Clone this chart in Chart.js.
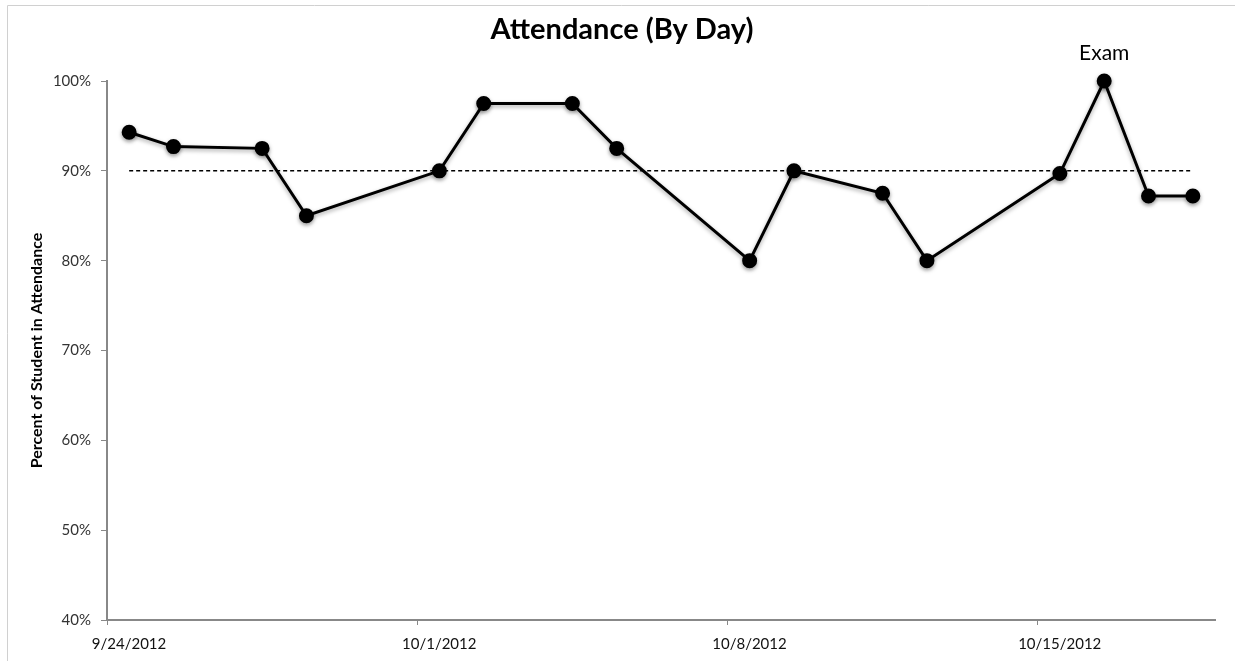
<!DOCTYPE html>
<html>
<head>
<meta charset="utf-8">
<title>Attendance (By Day)</title>
<script src="https://cdn.jsdelivr.net/npm/chart.js@4.4.1/dist/chart.umd.min.js"></script>
<style>
    html, body { margin: 0; padding: 0; background: #ffffff; }
    #wrap { width: 1235px; height: 661px; position: relative; }
</style>
</head>
<body>
<div id="wrap"><canvas id="attendanceChart"></canvas></div>
<script>
// Days with class and the share of students present
const dates = ['9/24/2012', '9/25/2012', '9/27/2012', '9/28/2012', '10/1/2012', '10/2/2012',
    '10/4/2012', '10/5/2012', '10/8/2012', '10/9/2012', '10/11/2012', '10/12/2012',
    '10/15/2012', '10/16/2012', '10/17/2012', '10/18/2012'];
const attendance = [94.3, 92.7, 92.5, 85.0, 90.0, 97.5, 97.5, 92.5, 80.0, 90.0, 87.5, 80.0,
    89.7, 100.0, 87.2, 87.2];
const notes = ['', '', '', '', '', '', '', '', '', '', '', '', '', 'Exam', '', ''];
const target = 90;

// Axis ticks
const tickDates = ['9/24/2012', '10/1/2012', '10/8/2012', '10/15/2012'];
const axisEnd = '10/19/2012';
const yTicks = [40, 50, 60, 70, 80, 90, 100];

const DAY = 24 * 3600 * 1000;
function dayNum(s) {
    const [m, d, y] = s.split('/').map(Number);
    return Date.UTC(y, m - 1, d) / DAY;
}
const start = dayNum(tickDates[0]);
const toX = s => dayNum(s) - start;

document.addEventListener('DOMContentLoaded', () => {
    const FONT = 'Lato, "Open Sans", sans-serif';

    // points sit in the middle of their day, like Excel's date axis
    const points = dates.map((d, i) => ({ x: toX(d) + 0.5, y: attendance[i] }));
    const targetLine = [
        { x: toX(dates[0]) + 0.5, y: target },
        { x: toX(dates[dates.length - 1]) + 0.5, y: target }
    ];

    const frame = {
        id: 'frame',
        beforeDraw(chart) {
            const c = chart.ctx;
            c.save();
            c.strokeStyle = '#d0d0d0';
            c.lineWidth = 1;
            c.beginPath();
            c.moveTo(7.5, chart.height);
            c.lineTo(7.5, 5.5);
            c.lineTo(chart.width, 5.5);
            c.stroke();
            c.fillStyle = '#000';
            c.font = 'bold 29px ' + FONT;
            c.textAlign = 'center';
            c.textBaseline = 'middle';
            c.fillText('Attendance (By Day)', 622, 30);
            c.restore();
        },
        beforeDatasetDraw(chart, args) {
            if (args.index === 0) {
                const c = chart.ctx;
                c.save();
                c.shadowColor = 'rgba(0,0,0,0.35)';
                c.shadowBlur = 4;
                c.shadowOffsetY = 2;
            }
        },
        afterDatasetDraw(chart, args) {
            if (args.index === 0) chart.ctx.restore();
        },
        afterDatasetsDraw(chart) {
            const c = chart.ctx;
            const meta = chart.getDatasetMeta(0);
            c.save();
            c.fillStyle = '#000';
            c.font = '21px ' + FONT;
            c.textAlign = 'center';
            c.textBaseline = 'middle';
            notes.forEach((n, i) => {
                if (!n) return;
                const p = meta.data[i];
                c.fillText(n, p.x, p.y - 28);
            });
            c.restore();
        }
    };

    const ctx = document.getElementById('attendanceChart').getContext('2d');
    new Chart(ctx, {
        type: 'line',
        data: {
            datasets: [{
                label: 'Attendance',
                data: points,
                borderColor: '#000',
                backgroundColor: '#000',
                borderWidth: 3,
                pointRadius: 6,
                pointHoverRadius: 6,
                tension: 0,
                clip: false
            }, {
                label: 'Target',
                data: targetLine,
                borderColor: '#000',
                borderWidth: 1.5,
                borderDash: [4, 3],
                pointRadius: 0,
                tension: 0
            }]
        },
        plugins: [frame],
        options: {
            responsive: true,
            maintainAspectRatio: false,
            animation: false,
            layout: { padding: { top: 81, right: 20, left: 27, bottom: 0 } },
            plugins: {
                legend: { display: false },
                tooltip: { enabled: false }
            },
            scales: {
                x: {
                    type: 'linear',
                    min: 0,
                    max: toX(axisEnd),
                    afterBuildTicks: scale => {
                        scale.ticks = tickDates.map(d => ({ value: toX(d) }));
                    },
                    afterFit: scale => { scale.height = 41; },
                    ticks: {
                        callback: v => tickDates.find(d => toX(d) === v) || '',
                        labelOffset: 22,
                        padding: 10,
                        maxRotation: 0,
                        autoSkip: false,
                        color: '#111',
                        font: { family: FONT, size: 15 }
                    },
                    grid: { drawOnChartArea: false, drawTicks: true, tickLength: 5, color: '#888' },
                    border: { display: true, color: '#888', width: 2 }
                },
                y: {
                    min: 40,
                    max: 100,
                    afterBuildTicks: scale => {
                        scale.ticks = yTicks.map(v => ({ value: v }));
                    },
                    afterFit: scale => { scale.width = 80; },
                    ticks: {
                        callback: v => v + '%',
                        padding: 10,
                        color: '#333',
                        font: { family: FONT, size: 15 }
                    },
                    title: {
                        display: true,
                        text: 'Percent of Student in Attendance',
                        color: '#000',
                        padding: { top: 0, bottom: 0 },
                        font: { family: FONT, size: 16, weight: 'bold' }
                    },
                    grid: { drawOnChartArea: false, drawTicks: true, tickLength: 6, color: '#888' },
                    border: { display: true, color: '#888', width: 2 }
                }
            }
        }
    });
});
</script>
</body>
</html>
